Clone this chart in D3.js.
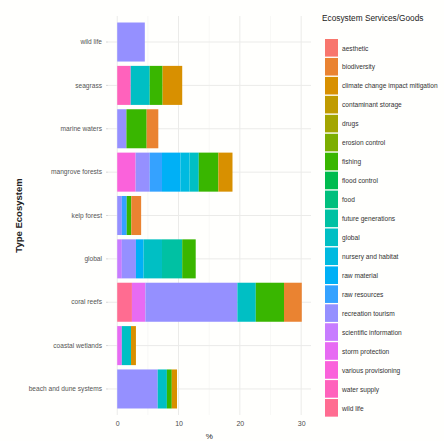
<!DOCTYPE html>
<html><head><meta charset="utf-8">
<script src="https://cdn.jsdelivr.net/npm/d3@7"></script>
<style>body{margin:0;background:#fffffd}text{font-family:"Liberation Sans",Arial,sans-serif}</style>
</head><body><svg id="c" width="444" height="441"></svg>
<script>
const ecosystems = ["wild life","seagrass","marine waters","mangrove forests","kelp forest","global","coral reefs","coastal wetlands","beach and dune systems"];
const services = ["aesthetic","biodiversity","climate change impact mitigation","contaminant storage","drugs","erosion control","fishing","flood control","food","future generations","global","nursery and habitat","raw material","raw resources","recreation tourism","scientific information","storm protection","various provisioning","water supply","wild life"];
const serviceColors = ["#F8766D","#EA8331","#D89000","#C09B00","#A3A500","#7CAE00","#39B600","#00BB4E","#00BF7D","#00C1A3","#00BFC4","#00BAE0","#00B0F6","#35A2FF","#9590FF","#C77CFF","#E76BF3","#FA62DB","#FF62BC","#FF6C91"];
const xTicks = [0,10,20,30];
// [ecosystem, service, percent]
const rows = [
 ["wild life","recreation tourism",4.5],
 ["seagrass","water supply",2.2],["seagrass","global",3.1],["seagrass","fishing",2.1],["seagrass","climate change impact mitigation",3.2],
 ["marine waters","recreation tourism",1.5],["marine waters","fishing",3.3],["marine waters","biodiversity",1.9],
 ["mangrove forests","various provisioning",3.0],["mangrove forests","recreation tourism",2.3],["mangrove forests","raw resources",2.0],["mangrove forests","raw material",3.0],["mangrove forests","nursery and habitat",1.5],["mangrove forests","global",1.5],["mangrove forests","fishing",3.2],["mangrove forests","climate change impact mitigation",2.3],
 ["kelp forest","recreation tourism",0.75],["kelp forest","raw resources",0.8],["kelp forest","fishing",0.75],["kelp forest","biodiversity",1.6],
 ["global","scientific information",0.75],["global","recreation tourism",2.3],["global","raw material",1.25],["global","global",3.0],["global","future generations",3.3],["global","fishing",2.2],
 ["coral reefs","wild life",2.4],["coral reefs","storm protection",2.2],["coral reefs","recreation tourism",15.0],["coral reefs","global",3.0],["coral reefs","fishing",4.6],["coral reefs","biodiversity",2.9],
 ["coastal wetlands","storm protection",0.75],["coastal wetlands","global",1.5],["coastal wetlands","climate change impact mitigation",0.8],
 ["beach and dune systems","recreation tourism",6.6],["beach and dune systems","global",1.5],["beach and dune systems","fishing",0.8],["beach and dune systems","climate change impact mitigation",0.85]
];

const svg = d3.select("#c");
const P = {l:108, r:311, t:16, b:415};
const color = d3.scaleOrdinal().domain(services).range(serviceColors);

// stack: last service level leftmost
const segs = [];
ecosystems.forEach(e => {
  const r = rows.filter(d => d[0]===e).sort((a,b)=>services.indexOf(b[1])-services.indexOf(a[1]));
  let acc = 0;
  r.forEach(d => { segs.push({eco:e, svc:d[1], x0:acc, x1:acc+d[2]}); acc += d[2]; });
});
const maxT = d3.max(segs, d=>d.x1);
const x = d3.scaleLinear().domain([-maxT*0.05, maxT*1.05]).range([P.l, P.r]);
const y = d3.scaleBand().domain(ecosystems).range([P.t, P.b]).paddingInner(0.1).paddingOuter(0.15);

// grid
const g = svg.append("g");
const minor = [5,15,25];
g.selectAll(".mn").data(minor).enter().append("line")
  .attr("x1",d=>x(d)).attr("x2",d=>x(d)).attr("y1",P.t).attr("y2",P.b)
  .attr("stroke","#f3f3f1").attr("stroke-width",0.6);
g.selectAll(".mj").data(xTicks).enter().append("line")
  .attr("x1",d=>x(d)).attr("x2",d=>x(d)).attr("y1",P.t).attr("y2",P.b)
  .attr("stroke","#ebebe9").attr("stroke-width",1);
g.selectAll(".hy").data(ecosystems).enter().append("line")
  .attr("x1",P.l).attr("x2",P.r).attr("y1",d=>y(d)+y.bandwidth()/2).attr("y2",d=>y(d)+y.bandwidth()/2)
  .attr("stroke","#ebebe9").attr("stroke-width",1);

// bars
svg.append("g").selectAll("rect").data(segs).enter().append("rect")
  .attr("x",d=>x(d.x0)).attr("width",d=>x(d.x1)-x(d.x0))
  .attr("y",d=>y(d.eco)).attr("height",y.bandwidth())
  .attr("fill",d=>color(d.svc));

// axes
const xa = svg.append("g").attr("transform",`translate(0,${P.b})`)
  .call(d3.axisBottom(x).tickValues(xTicks).tickSize(0).tickPadding(6));
xa.select(".domain").remove();
xa.selectAll("text").attr("fill","#4d4d4d").style("font-size","7px");

const ya = svg.append("g").attr("transform",`translate(${P.l},0)`)
  .call(d3.axisLeft(y).tickSize(2).tickPadding(4));
ya.select(".domain").remove();
ya.selectAll("line").attr("stroke","#d8d8d8");
ya.selectAll("text").attr("fill","#555").style("font-size","6.6px");

svg.append("text").attr("x",x(15)).attr("y",439).attr("text-anchor","middle")
  .style("font-size","8px").attr("fill","#222").text("%");
svg.append("text").attr("transform",`translate(22,${(P.t+P.b)/2}) rotate(-90)`).attr("text-anchor","middle")
  .style("font-size","9.5px").style("font-weight","bold").attr("fill","#222").text("Type Ecosystem");

// legend
const L = svg.append("g");
L.append("text").attr("x",322).attr("y",21).style("font-size","8.3px").attr("fill","#222").text("Ecosystem Services/Goods");
const ks = 18.95;
const li = L.selectAll(".k").data(services).enter().append("g").attr("transform",(d,i)=>`translate(325,${39+i*ks})`);
li.append("rect").attr("width",13).attr("height",17.6).attr("fill",d=>color(d));
li.append("text").attr("x",17).attr("y",11.5).style("font-size","6.6px").attr("fill","#333").text(d=>d);
</script></body></html>
